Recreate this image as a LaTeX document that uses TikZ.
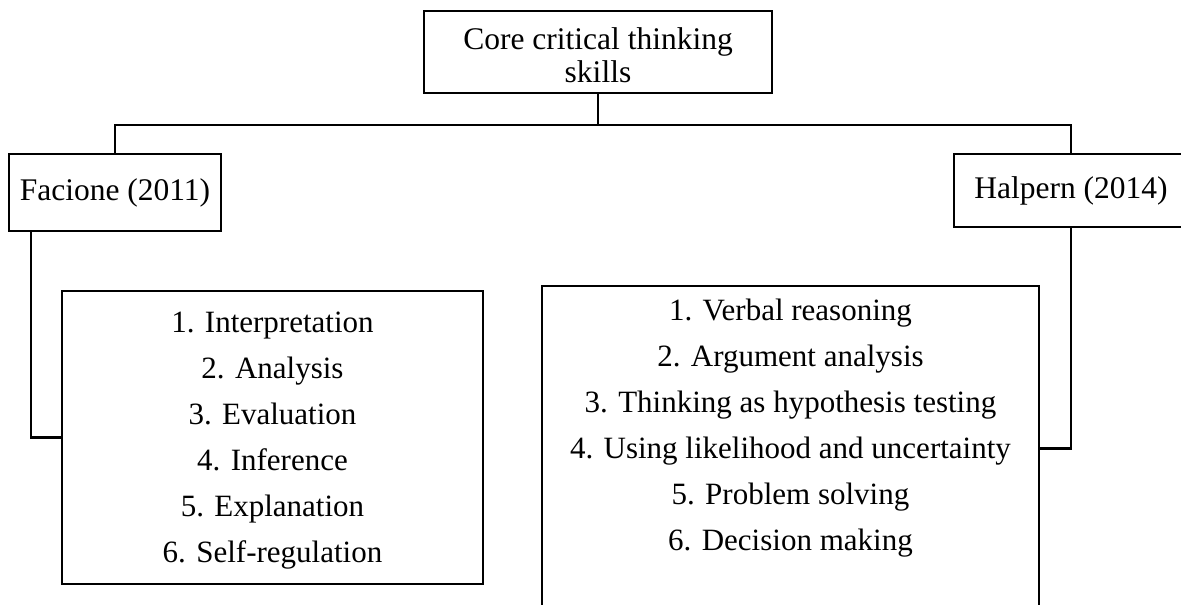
\documentclass[tikz,border=0pt]{standalone}
\usepackage{fontspec}
\setmainfont{Liberation Serif}
\tikzset{
  box/.style={draw, line width=2.4pt, inner sep=0pt, align=center, font=\fontsize{31.5}{33}\selectfont},
  frame/.style={draw, line width=2.4pt, inner sep=0pt},
  listtext/.style={inner sep=0pt, align=center, font=\fontsize{31}{46}\selectfont},
  conn/.style={line width=2.4pt},
}
\begin{document}
\begin{tikzpicture}[x=1pt,y=-1pt]
\useasboundingbox (0,0) rectangle (1181,605);
\fill[white] (0,0) rectangle (1181,605);
\begin{scope}
\clip (0,0) rectangle (1181,605);
\node[box, minimum width=348pt, minimum height=82pt] (core) at (598,52) {};
\node[inner sep=0pt, align=center, font=\fontsize{31.5}{33}\selectfont] (coretext) at (598,55) {Core critical thinking\\skills};
\node[box, minimum width=212pt, minimum height=77pt] (fac) at (115,192.5) {Facione (2011)};
\node[box, minimum width=234pt, minimum height=73pt] (hal) at (1071,190.5) {Halpern (2014)};
\node[frame, minimum width=421pt, minimum height=293pt] (flist) at (272.5,437.5) {};
\node[listtext] (flisttext) at (272.5,441)
  {1. Interpretation\\2. Analysis\\3. Evaluation\\4. Inference\\5. Explanation\\6. Self-regulation};
\node[minimum width=497pt, minimum height=277pt, inner sep=0pt] (hlist) at (790.5,424.5) {};
\node[listtext] (hlisttext) at (790.5,428.5)
  {1. Verbal reasoning\\2. Argument analysis\\3. Thinking as hypothesis testing\\4. Using likelihood and uncertainty\\5. Problem solving\\6. Decision making};
\draw[conn] ([yshift=-120pt]hlist.south west) -- (hlist.north west) -- (hlist.north east) -- ([yshift=-120pt]hlist.south east);
\draw[conn] (core.south) -- ++(0,31) coordinate (j);
\draw[conn] (fac.north) |- (j) -| (hal.north);
\draw[conn] ([xshift=23pt]fac.south west) |- (flist.west);
\draw[conn] (hal.south) |- ([yshift=-24pt]hlist.east);
\end{scope}
\end{tikzpicture}
\end{document}
